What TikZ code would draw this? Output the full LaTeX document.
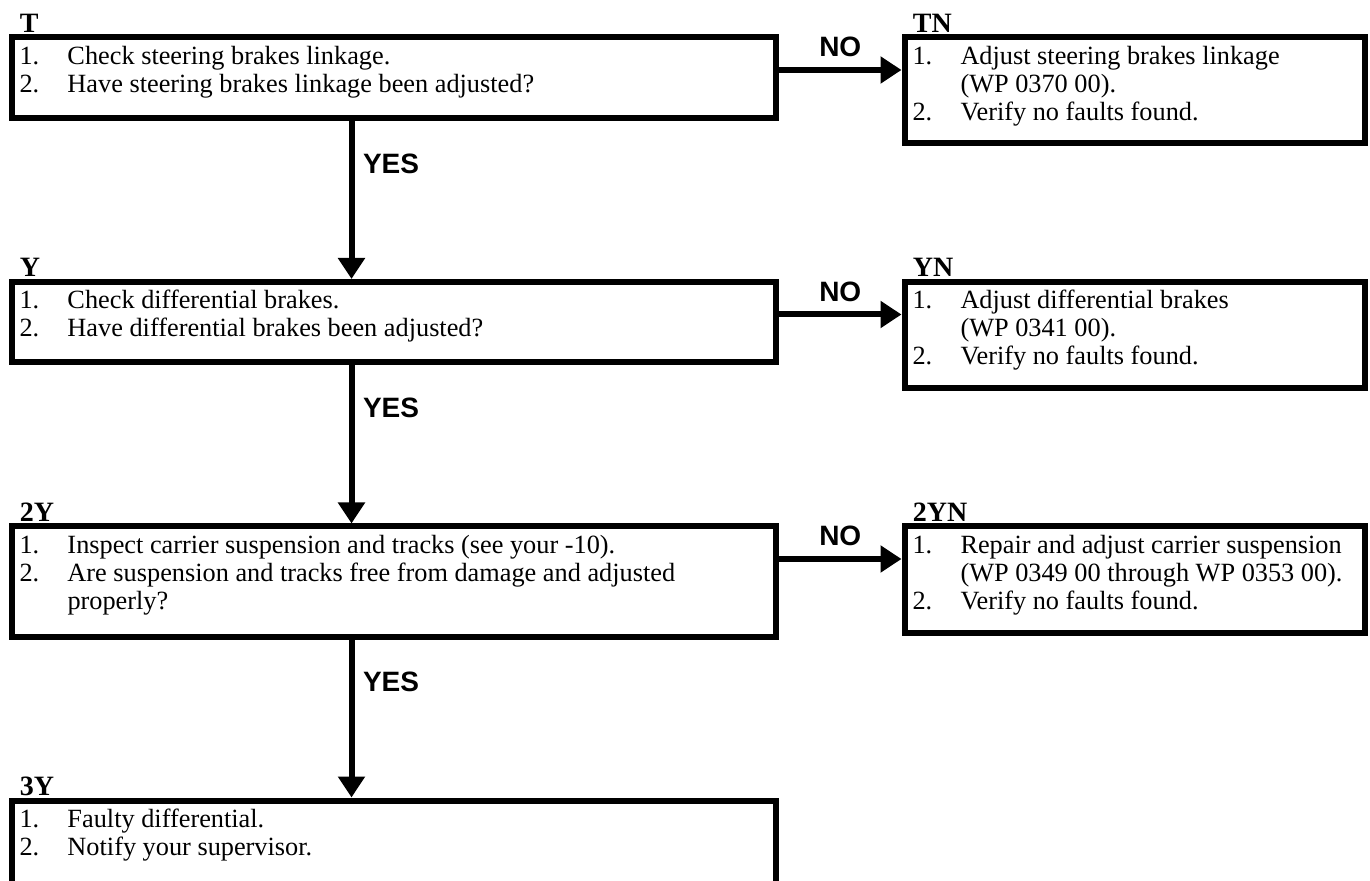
\documentclass[tikz,border=0pt]{standalone}
\usepackage{fontspec}
\setmainfont{Liberation Serif}
\setsansfont{Liberation Sans}
\usetikzlibrary{arrows.meta, positioning}

% one numbered line of a step box
\newcommand{\stepline}[2]{\par\hangindent=24pt\hangafter=1\noindent\makebox[24pt][l]{\rule{0pt}{13.5pt}#1}#2\par}
% body of a step box: width, height, lines
\newcommand{\stepbody}[3]{\parbox[b][#2][t]{#1}{\raggedright\lineskiplimit=-\maxdimen\fontsize{13.15}{14}\selectfont #3}}

\begin{document}
\begin{tikzpicture}[x=0.5pt, y=-0.5pt,
    stepbox/.style={draw, line width=3pt, anchor=north west, inner xsep=4pt, inner ysep=0pt},
    head/.style={anchor=base west, inner sep=0pt, font=\fontsize{14}{16}\selectfont\bfseries},
    flow/.style={line width=3pt, -{Triangle[width=13pt, length=10.5pt]}},
    answer/.style={inner sep=0pt, font=\fontsize{14}{16}\selectfont\sffamily\bfseries}]
    \useasboundingbox (0,0) rectangle (1370,881);
    \fill[white] (0,0) rectangle (1370,881);
    \clip (0,0) rectangle (1370,881);

    % Step T: steering brakes linkage
    \node[stepbox] (T) at (8.5,34.5) {\stepbody{374.25pt}{40.25pt}{%
        \stepline{1.}{Check steering brakes linkage.}%
        \stepline{2.}{Have steering brakes linkage been adjusted?}}};
    \node[stepbox, right=61.25pt of T.north east, anchor=north west] (TN) {\stepbody{222.25pt}{53pt}{%
        \stepline{1.}{Adjust steering brakes linkage\newline(WP 0370 00).}%
        \stepline{2.}{Verify no faults found.}}};
    \node[head] (Thead) at ([xshift=5.5pt, yshift=1pt]T.north west) {T};
    \node[head] (TNhead) at ([xshift=5.5pt, yshift=1pt]TN.north west) {TN};

    % Step Y: differential brakes
    \node[stepbox, below=79pt of T.south west, anchor=north west] (Y) {\stepbody{374.25pt}{40.25pt}{%
        \stepline{1.}{Check differential brakes.}%
        \stepline{2.}{Have differential brakes been adjusted?}}};
    \node[stepbox, right=61.25pt of Y.north east, anchor=north west] (YN) {\stepbody{222.25pt}{53pt}{%
        \stepline{1.}{Adjust differential brakes\newline(WP 0341 00).}%
        \stepline{2.}{Verify no faults found.}}};
    \node[head] (Yhead) at ([xshift=5.5pt, yshift=1pt]Y.north west) {Y};
    \node[head] (YNhead) at ([xshift=5.5pt, yshift=1pt]YN.north west) {YN};

    % Step 2Y: suspension and tracks
    \node[stepbox, below=79pt of Y.south west, anchor=north west] (2Y) {\stepbody{374.25pt}{55pt}{%
        \stepline{1.}{Inspect carrier suspension and tracks (see your -10).}%
        \stepline{2.}{Are suspension and tracks free from damage and adjusted\newline properly?}}};
    \node[stepbox, right=61.25pt of 2Y.north east, anchor=north west] (2YN) {\stepbody{222.25pt}{53pt}{%
        \stepline{1.}{Repair and adjust carrier suspension\newline(WP 0349 00 through WP 0353 00).}%
        \stepline{2.}{Verify no faults found.}}};
    \node[head] (2Yhead) at ([xshift=5.5pt, yshift=1pt]2Y.north west) {2Y};
    \node[head] (2YNhead) at ([xshift=5.5pt, yshift=1pt]2YN.north west) {2YN};

    % Step 3Y: end of the chart
    \node[stepbox, below=79pt of 2Y.south west, anchor=north west] (3Y) {\stepbody{374.25pt}{60pt}{%
        \stepline{1.}{Faulty differential.}%
        \stepline{2.}{Notify your supervisor.}}};
    \node[head] (3Yhead) at ([xshift=5.5pt, yshift=1pt]3Y.north west) {3Y};

    % YES connectors
    \draw[flow] ([xshift=171.5pt]T.south west) -- ([xshift=171.5pt]Y.north west)
        node[answer, pos=0.27, anchor=west, xshift=4.25pt] (yes1) {YES};
    \draw[flow] ([xshift=171.5pt]Y.south west) -- ([xshift=171.5pt]2Y.north west)
        node[answer, pos=0.27, anchor=west, xshift=4.25pt] (yes2) {YES};
    \draw[flow] ([xshift=171.5pt]2Y.south west) -- ([xshift=171.5pt]3Y.north west)
        node[answer, pos=0.27, anchor=west, xshift=4.25pt] (yes3) {YES};

    % NO connectors
    \draw[flow] ([yshift=-17.75pt]T.north east) -- ([yshift=-17.75pt]TN.north west)
        node[answer, midway, above=5pt] (no1) {NO};
    \draw[flow] ([yshift=-17.75pt]Y.north east) -- ([yshift=-17.75pt]YN.north west)
        node[answer, midway, above=5pt] (no2) {NO};
    \draw[flow] ([yshift=-17.75pt]2Y.north east) -- ([yshift=-17.75pt]2YN.north west)
        node[answer, midway, above=5pt] (no3) {NO};
\end{tikzpicture}
\end{document}
